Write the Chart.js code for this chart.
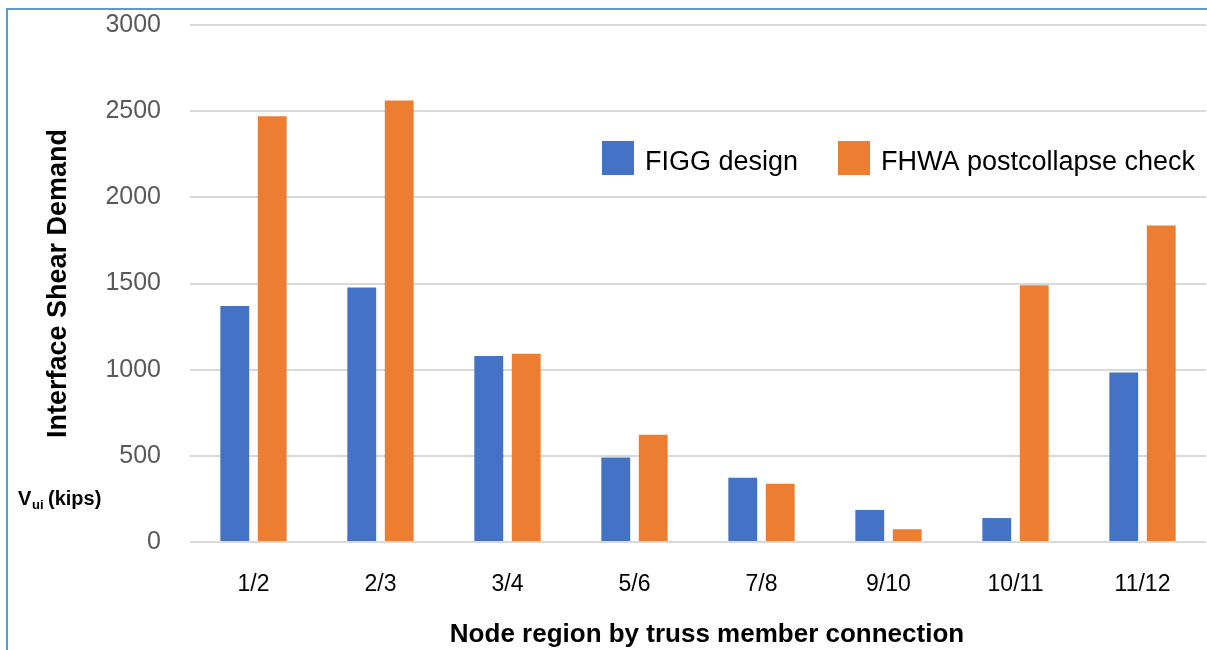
<!DOCTYPE html>
<html>
<head>
<meta charset="utf-8">
<script src="https://cdn.jsdelivr.net/npm/chart.js@4.4.1/dist/chart.umd.min.js"></script>
<style>
body { margin: 0; background: #fff; }
#wrap { position: relative; width: 1207px; height: 650px; overflow: hidden; background: #fff; }
#frame { position: absolute; left: 6px; top: 8px; width: 1220px; height: 700px; border-left: 2px solid #5B9BD5; border-top: 2px solid #5B9BD5; }
canvas { position: absolute; left: 0; top: 0; }
</style>
</head>
<body>
<div id="wrap">
	<div id="frame"></div>
	<canvas id="shearChart" width="1207" height="650"></canvas>
</div>
<script>
var categories = ['1/2', '2/3', '3/4', '5/6', '7/8', '9/10', '10/11', '11/12'];
var figgDesign = [1370, 1477, 1080, 491, 373, 186, 139, 984];
var fhwaCheck = [2470, 2562, 1092, 622, 338, 74, 1490, 1836];
var yTicks = [0, 500, 1000, 1500, 2000, 2500, 3000];
var seriesNames = ['FIGG design', 'FHWA postcollapse check'];
var yTitle = 'Interface Shear Demand';
var xTitle = 'Node region by truss member connection';

var FONT = '"Liberation Sans", Arial, sans-serif';

// legend, Vui label and x title drawn by hand
var extraText = {
	id: 'extraText',
	afterDraw: function(chart) {
		var ctx = chart.ctx;
		var boxX = [602, 838];
		ctx.save();
		chart.data.datasets.forEach(function(ds, i) {
			ctx.fillStyle = ds.backgroundColor;
			ctx.fillRect(boxX[i], 141, 32, 34);
			ctx.fillStyle = '#000';
			ctx.font = '27px ' + FONT;
			ctx.textBaseline = 'alphabetic';
			ctx.textAlign = 'left';
			ctx.fillText(ds.label, boxX[i] + 43, 170);
		});

		ctx.fillStyle = '#000';
		ctx.font = 'bold 20px ' + FONT;
		ctx.fillText('V', 18, 505);
		ctx.font = 'bold 13px ' + FONT;
		ctx.fillText('ui', 32, 509);
		ctx.font = 'bold 20px ' + FONT;
		ctx.fillText('(kips)', 48, 505);

		ctx.font = 'bold 26px ' + FONT;
		ctx.textAlign = 'center';
		ctx.fillText(xTitle, 707, 642);
		ctx.restore();
	}
};

var ctx = document.getElementById('shearChart');
var shearChart = new Chart(ctx, {
	type: 'bar',
	data: {
		labels: categories,
		datasets: [{
			label: seriesNames[0],
			data: figgDesign,
			backgroundColor: '#4472C4',
			categoryPercentage: 0.59,
			barPercentage: 0.77
		}, {
			label: seriesNames[1],
			data: fhwaCheck,
			backgroundColor: '#ED7D31',
			categoryPercentage: 0.59,
			barPercentage: 0.77
		}]
	},
	options: {
		responsive: false,
		devicePixelRatio: 1,
		animation: false,
		layout: { padding: { top: 25, right: 1, left: 0, bottom: 0 } },
		plugins: {
			legend: { display: false },
			tooltip: { enabled: false }
		},
		scales: {
			x: {
				grid: { display: false },
				border: { display: false },
				ticks: { color: '#000', font: { family: FONT, size: 23 }, padding: 21 },
				afterFit: function(s) { s.height = 108; }
			},
			y: {
				min: 0,
				max: 3000,
				afterBuildTicks: function(s) {
					s.ticks = yTicks.map(function(v) { return { value: v }; });
				},
				grid: { color: '#d9d9d9', lineWidth: 2, drawTicks: false },
				border: { display: false },
				ticks: {
					color: '#595959',
					font: { family: FONT, size: 25 },
					padding: 29,
					callback: function(v) { return String(v); }
				},
				title: {
					display: true,
					text: yTitle,
					color: '#000',
					font: { family: FONT, size: 27, weight: 'bold' },
					padding: { top: 42, bottom: 0 }
				},
				afterFit: function(s) {
					s.width = 190;
					s.paddingTop = 10;
					s.paddingBottom = 10;
				}
			}
		}
	},
	plugins: [extraText]
});
</script>
</body>
</html>
